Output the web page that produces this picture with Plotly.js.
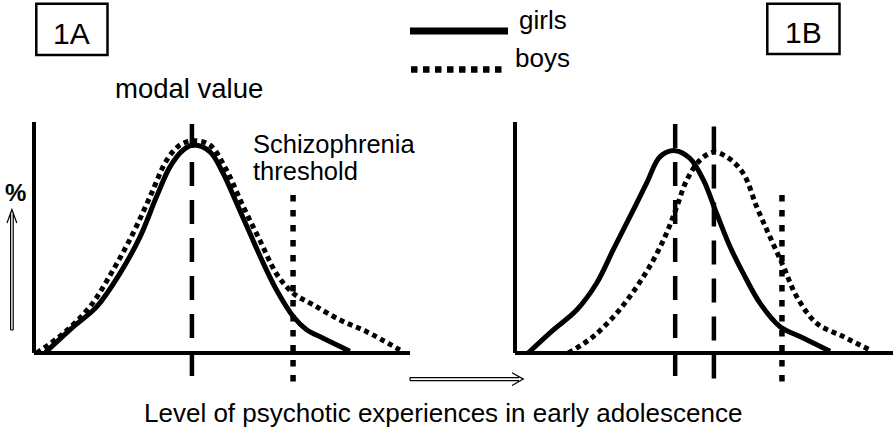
<!DOCTYPE html>
<html>
<head>
<meta charset="utf-8">
<script src="https://cdn.plot.ly/plotly-3.0.1.min.js"></script>
<style>html,body{margin:0;padding:0;background:#fff;}#chart{width:893px;height:428px;}</style>
</head>
<body>
<div id="chart"></div>
<script>
// ---------- data (level of psychotic experiences vs %) ----------
const girlsA_x = [0.29,1.05,1.67,2.29,2.82,3.26,3.62,3.97,4.24,4.68,5.03,5.39,5.74,6.10,6.45,6.90,7.25,7.69,8.40];
const girlsA_y = [0,11.4,20.1,34.6,50.3,67.7,80.7,87.9,90.0,87.1,77.8,64.8,51.9,38.8,27.3,15.7,10.1,6.4,0.8];
const boysA_x  = [0.07,0.78,1.49,2.11,2.64,3.09,3.53,3.88,4.24,4.68,5.12,5.57,6.01,6.45,6.90,7.43,8.14,8.85,9.73];
const boysA_y  = [0,8.5,20.1,36.1,52.0,67.8,83.5,90.0,91.9,90.0,79.2,63.2,48.7,34.3,25.8,20.8,14.3,9.2,1.3];
const girlsB_x = [0.35,1.02,1.64,2.17,2.61,3.06,3.50,3.86,4.26,4.65,5.01,5.36,5.72,6.07,6.52,7.05,7.58,8.38];
const girlsB_y = [0,10.0,18.6,30.2,44.6,59.1,73.5,85.0,87.6,84.3,74.9,60.5,46.0,34.5,21.5,11.4,7.1,0.8];
const boysB_x  = [1.42,2.08,2.70,3.24,3.68,4.03,4.30,4.57,4.92,5.27,5.63,6.07,6.43,6.78,7.14,7.49,8.02,8.73,9.44];
const boysB_y  = [0,7.1,17.2,28.7,40.3,51.8,63.2,74.9,83.5,86.9,84.9,77.8,63.2,50.3,37.4,24.5,12.9,7.1,1.3];
const modalA = [4.20];          // shared modal value, panel A
const modalB = [4.26, 5.29];    // girls, boys modal values, panel B
const thresholdA = 6.89;
const thresholdB = 7.10;
const legendLabels = ["girls", "boys"];
const panelLabels = ["1A", "1B"];
const xLabel = "Level of psychotic experiences in early adolescence";

// ---------- geometry ----------
const W = 893, H = 428;
const FONT = "Liberation Sans, Arial, Helvetica, sans-serif";
const px = v => v / W;
const py = v => 1 - v / H;
const XS = 37.6, YS = 2.31, Y0 = 353;
const xA0 = 34, xB0 = 515;
const yr = [-14, 101];
const xrA = [-0.4, 10.4];
const xrB = [-0.4, (W - xB0) / XS];
const ydom = [py(Y0 - yr[0] * YS), py(Y0 - yr[1] * YS)];
const xdomA = [px(xA0 + xrA[0] * XS), px(xA0 + xrA[1] * XS)];
const xdomB = [px(xB0 + xrB[0] * XS), 1];

const girlsLine = {color: "#000", width: 5, shape: "spline", smoothing: 1};
const boysLine = {color: "#000", width: 5, dash: "5px,4px", shape: "spline", smoothing: 1};
const modalStyle = {color: "#000", width: 4.5, dash: "24px,14px"};
const threshStyle = {color: "#000", width: 5.5, dash: "6.5px,8.5px"};
const modalTop = 99.1, vBottom = -13;
const threshTop = 68.4;

const traces = [];
function vline(x, top, style, xa, ya) {
  traces.push({x: [x, x], y: [top, vBottom], mode: "lines", line: style, xaxis: xa, yaxis: ya, hoverinfo: "skip", showlegend: false});
}
// Panel A
vline(modalA[0], modalTop, modalStyle, "x", "y");
vline(thresholdA, threshTop, threshStyle, "x", "y");
traces.push({x: boysA_x, y: boysA_y, mode: "lines", line: boysLine, xaxis: "x", yaxis: "y", showlegend: false});
traces.push({x: girlsA_x, y: girlsA_y, mode: "lines", line: girlsLine, xaxis: "x", yaxis: "y", showlegend: false});
// Panel B
vline(modalB[0], modalTop, modalStyle, "x2", "y2");
vline(modalB[1], 98, modalStyle, "x2", "y2");
vline(thresholdB, threshTop, threshStyle, "x2", "y2");
traces.push({x: boysB_x, y: boysB_y, mode: "lines", line: boysLine, xaxis: "x2", yaxis: "y2", showlegend: false});
traces.push({x: girlsB_x, y: girlsB_y, mode: "lines", line: girlsLine, xaxis: "x2", yaxis: "y2", showlegend: false});

const hidden = {visible: false, fixedrange: true};

const shapes = [];
// axes lines (L-shaped frames)
function axisFrame(xr, yr_, xend) {
  shapes.push({type: "line", xref: xr, yref: yr_, x0: 0, x1: 0, y0: 0, y1: 100, line: {color: "#000", width: 4}});
  shapes.push({type: "line", xref: xr, yref: yr_, x0: 0, x1: xend, y0: 0, y1: 0, line: {color: "#000", width: 4}});
}
axisFrame("x", "y", 10);
axisFrame("x2", "y2", xrB[1]);

// panel label boxes
function box(x0, x1, y0, y1) {
  shapes.push({type: "rect", xref: "paper", yref: "paper", x0: px(x0), x1: px(x1), y0: py(y1), y1: py(y0), line: {color: "#000", width: 2.5}, fillcolor: "rgba(0,0,0,0)"});
}
box(36.3, 107.5, 3.8, 55);
box(767.3, 839.5, 3.8, 54);

// legend samples
function pline(x0, y0, x1, y1, line) {
  shapes.push({type: "line", xref: "paper", yref: "paper", x0: px(x0), y0: py(y0), x1: px(x1), y1: py(y1), line: line});
}
pline(410, 31, 508, 31, {color: "#000", width: 7});
pline(411, 69.5, 507, 69.5, {color: "#000", width: 6.5, dash: "6.5px,5.5px"});

function pathStr(segs) {
  return segs.map(seg => seg.map((p, i) => (i === 0 ? "M" : "L") + px(p[0]).toFixed(5) + "," + py(p[1]).toFixed(5)).join(" ")).join(" ");
}
// up arrow at left
shapes.push({type: "path", xref: "paper", yref: "paper",
  path: pathStr([[[10.6, 330], [10.6, 212]], [[13.2, 330], [13.2, 212]], [[10.6, 330], [13.2, 330]], [[7, 223], [11.9, 209.5], [16.8, 223]]]),
  line: {color: "#000", width: 1.2}});
// right arrow at bottom
shapes.push({type: "path", xref: "paper", yref: "paper",
  path: pathStr([[[410, 377.6], [519, 377.6]], [[410, 380.6], [519, 380.6]], [[410, 377.6], [410, 380.6]], [[512, 372.8], [523.3, 379.1], [512, 385.4]]]),
  line: {color: "#000", width: 1.2}});

const annotations = [];
function txt(text, x, y, size, xanchor, bold) {
  annotations.push({text: bold ? "<b>" + text + "</b>" : text, xref: "paper", yref: "paper", x: px(x), y: py(y),
    xanchor: xanchor, yanchor: "middle", showarrow: false, font: {family: FONT, size: size, color: "#000"}});
}
txt(panelLabels[0], 71.8, 33, 30, "center");
txt(panelLabels[1], 803.5, 32, 30, "center");
txt(legendLabels[0], 517, 19.6, 26, "left");
txt(legendLabels[1], 513, 58.3, 26, "left");
txt("modal value", 189, 88, 27.5, "center");
txt("Schizophrenia", 251, 144, 25.5, "left");
txt("threshold", 251, 171, 25.5, "left");
txt("%", 15, 192, 24, "center", true);
txt(xLabel, 443, 412.6, 26, "center");

const layout = {
  width: W, height: H,
  margin: {l: 0, r: 0, t: 0, b: 0, pad: 0},
  paper_bgcolor: "#fff", plot_bgcolor: "rgba(0,0,0,0)",
  showlegend: false,
  xaxis: Object.assign({domain: xdomA, range: xrA, anchor: "y"}, hidden),
  yaxis: Object.assign({domain: ydom, range: yr, anchor: "x"}, hidden),
  xaxis2: Object.assign({domain: xdomB, range: xrB, anchor: "y2"}, hidden),
  yaxis2: Object.assign({domain: ydom, range: yr, anchor: "x2"}, hidden),
  shapes: shapes,
  annotations: annotations
};
Plotly.newPlot("chart", traces, layout, {staticPlot: true, displayModeBar: false});
</script>
</body>
</html>
